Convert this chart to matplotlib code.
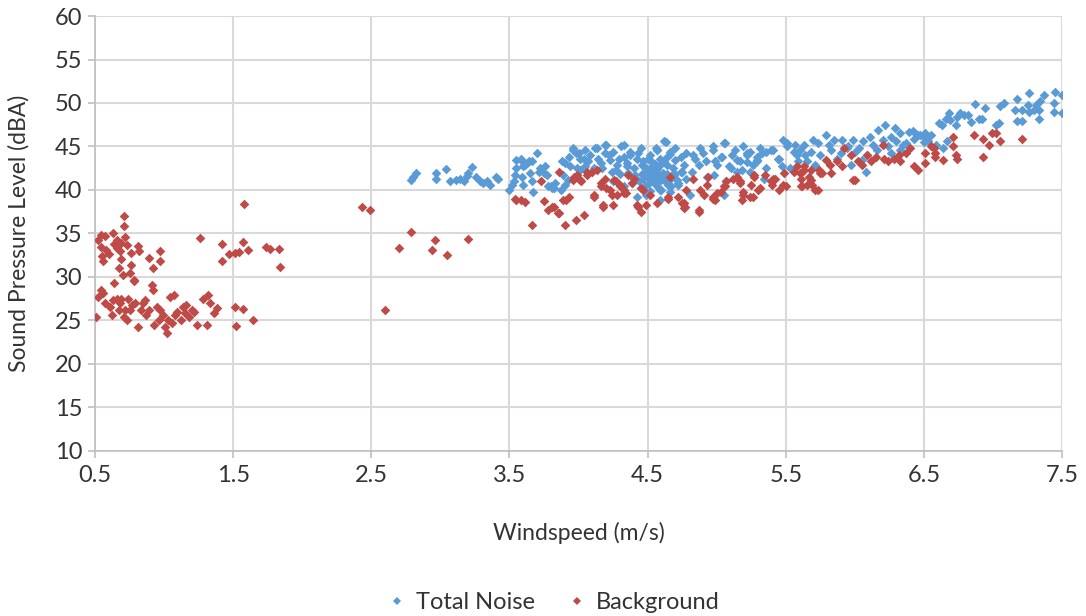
import matplotlib.pyplot as plt
from matplotlib.lines import Line2D
import numpy as np

# === PALETTE ===
BLUE = '#5B9BD5'
RED = '#BE4B48'
GRID = '#D9D9D9'
TEXT = '#333333'

plt.rcParams['font.family'] = ['Lato', 'DejaVu Sans']

# === DATA (windspeed m/s, SPL dBA) ===
TOTAL_NOISE = [
    (2.79, 41.1), (2.80, 41.5), (2.82, 41.9), (2.97, 41.9), (2.97, 41.3), (3.04, 42.4), (3.07, 41.0),
    (3.11, 41.1), (3.14, 41.3), (3.17, 41.0), (3.19, 41.6), (3.20, 41.9), (3.23, 42.6), (3.26, 41.5),
    (3.29, 41.0), (3.31, 40.8), (3.34, 41.0), (3.36, 40.6), (3.40, 41.5), (3.42, 41.3),
    (3.50, 40.0), (3.52, 40.6), (3.53, 41.0), (3.54, 41.7), (3.55, 43.4), (3.58, 43.4), (3.60, 42.7),
    (3.63, 43.1), (3.66, 43.3), (3.70, 44.2), (3.72, 42.5), (3.75, 41.9), (3.77, 41.7), (3.80, 40.4),
    (3.82, 40.2), (3.87, 40.0), (3.90, 43.1), (3.93, 43.8), (3.98, 44.2), (3.99, 42.5), (4.00, 41.3),
    (3.92, 41.1), (3.55, 42.5), (3.58, 43.6), (3.59, 41.5), (3.60, 40.6), (3.61, 42.9), (3.64, 43.3),
    (3.65, 41.9), (3.66, 41.0), (3.67, 39.8), (3.71, 42.1), (3.76, 42.7), (3.78, 40.4), (3.81, 40.2),
    (3.83, 40.8), (3.88, 43.3), (3.89, 41.7), (3.90, 40.6), (3.94, 42.7), (3.96, 44.8),
    (4.00, 44.2), (4.01, 42.3), (4.04, 43.6), (4.05, 44.6), (4.07, 43.3), (4.08, 44.0), (4.11, 42.5),
    (4.13, 44.8), (4.14, 43.6), (4.17, 42.5), (4.19, 44.2), (4.20, 45.2), (4.23, 43.4), (4.25, 44.4),
    (4.28, 42.9), (4.31, 45.0), (4.33, 43.8), (4.35, 43.1), (4.37, 44.4), (4.40, 42.5), (4.42, 43.6),
    (4.45, 44.8), (4.47, 43.3), (4.49, 42.1), (4.52, 44.0), (4.54, 42.9), (4.57, 44.6), (4.58, 41.7),
    (3.96, 44.6), (4.01, 43.6), (4.05, 42.7), (4.12, 44.8), (4.16, 43.1), (4.19, 45.2), (4.22, 44.0),
    (4.24, 42.1), (4.25, 41.0), (4.29, 43.6), (4.33, 45.2), (4.35, 42.7), (4.37, 44.0), (4.39, 40.8),
    (4.41, 41.7), (4.43, 44.2), (4.46, 42.9), (4.47, 41.3), (4.48, 40.4), (4.51, 42.3), (4.52, 43.4),
    (4.54, 41.1), (4.56, 42.1), (4.57, 44.6), (4.58, 40.2), (4.59, 42.9), (4.62, 41.5), (4.63, 45.5),
    (4.64, 43.8), (4.65, 40.6), (4.68, 42.5), (4.70, 43.4), (4.71, 41.1), (4.74, 42.1), (4.76, 42.9),
    (4.78, 44.2), (4.82, 42.1), (4.84, 43.6), (4.87, 42.9), (4.90, 44.2), (4.93, 41.5), (4.97, 45.0),
    (4.99, 43.3), (5.03, 43.8), (5.05, 45.4), (5.09, 42.7), (5.11, 44.0), (5.15, 43.4), (5.18, 42.3),
    (5.22, 44.2), (5.26, 42.9), (5.29, 43.8), (4.42, 39.2), (4.49, 39.4), (4.59, 38.8), (4.33, 40.4),
    (4.44, 41.0), (4.46, 41.8), (4.48, 42.6), (4.50, 41.5), (4.51, 40.8), (4.53, 42.0), (4.55, 41.4),
    (4.56, 40.6), (4.57, 42.4), (4.60, 41.2), (4.61, 42.0), (4.63, 40.9), (4.64, 41.8), (4.66, 41.3),
    (4.67, 40.4), (4.69, 42.0), (4.72, 40.8), (4.45, 40.2), (4.52, 39.9), (4.40, 41.4), (4.36, 42.0),
    (4.30, 41.8), (4.27, 42.3), (4.60, 40.0), (4.55, 43.0), (4.50, 43.6), (4.62, 43.2), (4.66, 44.1),
    (4.70, 44.8),
    (4.62, 45.6), (4.56, 44.8), (4.59, 43.6), (4.66, 44.4), (4.64, 42.9), (4.74, 43.8), (4.54, 42.5),
    (4.58, 41.3), (4.63, 41.0), (4.69, 41.7), (4.75, 42.1), (4.72, 40.6), (4.66, 39.8), (4.59, 40.0),
    (4.78, 41.3), (4.83, 44.0), (4.88, 44.8), (4.92, 43.3), (4.97, 44.6), (5.00, 42.9), (5.06, 45.4),
    (5.04, 43.8), (5.10, 42.5), (5.13, 44.6), (5.17, 43.3), (5.22, 44.0), (5.24, 42.1), (5.29, 43.3),
    (5.33, 44.2), (5.36, 42.5), (5.39, 44.6), (5.44, 43.6), (5.47, 42.7), (5.51, 45.4), (5.56, 44.4),
    (5.59, 43.3), (5.64, 44.0), (4.98, 41.7), (5.07, 41.0), (4.81, 39.4), (5.05, 39.4), (5.15, 42.1),
    (5.34, 41.3),
    (5.19, 45.0), (5.24, 44.4), (5.31, 44.8), (5.36, 44.4), (5.41, 44.6), (5.45, 43.6), (5.29, 43.4),
    (5.48, 45.7), (5.51, 45.0), (5.57, 45.2), (5.58, 44.0), (5.22, 43.2), (5.53, 42.5),
    (5.63, 45.2), (5.68, 44.4), (5.73, 45.4), (5.79, 46.3), (5.81, 45.2), (5.85, 45.7), (5.91, 45.7),
    (5.94, 44.8), (5.99, 45.7), (6.03, 44.8), (6.06, 45.6), (6.11, 46.1), (6.17, 46.9), (6.22, 47.5),
    (6.20, 45.7), (6.26, 46.1), (6.29, 47.1), (6.33, 46.5), (6.35, 45.2), (6.39, 46.7), (6.43, 45.9),
    (6.46, 46.3), (6.50, 46.1), (6.53, 45.6), (5.65, 43.3), (5.71, 42.9), (5.87, 43.6), (5.97, 42.9),
    (6.09, 44.0), (6.16, 44.6), (6.26, 44.2), (6.33, 44.6), (6.08, 42.1),
    (5.75, 44.0), (5.83, 44.6), (5.90, 44.2), (5.95, 45.0), (6.00, 44.4), (6.05, 43.5), (6.13, 45.2),
    (6.24, 45.0), (6.30, 45.6), (6.37, 45.4), (6.42, 46.8), (5.70, 45.8), (5.60, 44.6),
    (6.47, 46.3), (6.51, 46.5), (6.55, 46.3), (6.50, 45.5), (6.61, 47.7), (6.63, 47.5), (6.66, 48.2),
    (6.68, 48.8), (6.69, 48.0), (6.73, 47.5), (6.74, 48.4), (6.76, 48.8), (6.79, 48.6), (6.82, 48.6),
    (6.84, 47.8), (6.87, 49.9), (6.90, 48.2), (6.92, 48.2), (6.94, 49.4), (7.05, 49.6), (7.08, 50.0),
    (7.04, 47.7), (7.02, 47.5), (7.17, 50.5), (7.16, 49.2), (7.17, 47.9), (7.21, 47.9), (7.21, 49.2),
    (7.25, 49.8), (7.26, 51.1), (7.26, 49.0), (7.30, 49.2), (7.31, 49.8), (7.33, 49.2), (7.33, 48.2),
    (7.34, 50.2), (7.37, 50.9), (7.44, 50.0), (7.44, 49.0), (7.45, 51.3), (7.50, 50.9), (7.50, 48.8),
    (6.67, 45.6), (6.64, 44.8), (6.59, 45.2),
]

BACKGROUND = [
    # calm winds, upper group
    (0.71, 37.0), (0.71, 35.9), (0.54, 34.8), (0.57, 34.7), (0.63, 35.0), (0.66, 34.3), (0.69, 33.9),
    (0.73, 33.7), (0.54, 33.5), (0.58, 33.1), (0.66, 33.3), (0.68, 33.0), (0.76, 32.7), (0.81, 33.6),
    (0.82, 33.0), (0.55, 32.4), (0.56, 31.8), (0.69, 32.1), (0.76, 31.4), (0.75, 30.5), (0.67, 31.0),
    (0.89, 32.2), (0.97, 33.0), (0.97, 31.8), (0.52, 34.2), (0.60, 32.6), (0.72, 34.6), (0.64, 33.8),
    (0.78, 29.6), (0.70, 30.2), (0.92, 31.0),
    # calm winds, lower group
    (0.51, 25.4), (0.54, 28.5), (0.56, 28.1), (0.52, 27.7), (0.57, 27.0), (0.61, 26.6), (0.62, 25.6),
    (0.63, 27.4), (0.64, 29.3), (0.66, 27.5), (0.67, 26.2), (0.68, 27.0), (0.69, 27.5), (0.71, 25.4),
    (0.72, 26.2), (0.73, 25.1), (0.74, 27.5), (0.75, 26.2), (0.77, 26.8), (0.78, 29.5), (0.79, 27.0),
    (0.81, 24.3), (0.83, 26.2), (0.85, 27.0), (0.86, 27.4), (0.87, 25.6), (0.89, 26.2), (0.91, 29.1),
    (0.92, 28.5), (0.93, 24.5), (0.95, 26.6), (0.96, 25.1), (0.97, 26.2), (0.99, 25.6), (1.01, 24.3),
    (1.02, 23.5), (1.03, 25.1), (1.04, 27.7), (1.06, 24.7), (1.07, 27.9), (1.08, 25.6), (1.09, 26.0),
    (1.12, 25.1), (1.14, 26.6), (1.15, 25.8), (1.16, 26.8), (1.18, 25.4), (1.20, 26.2), (1.22, 26.0),
    (1.24, 24.5), (1.28, 27.5), (1.31, 24.5), (1.32, 27.9), (1.33, 27.0), (1.36, 25.8), (1.38, 26.4),
    # sparse middle
    (1.26, 34.5), (1.42, 33.8), (1.42, 31.8), (1.47, 32.6), (1.51, 32.7), (1.54, 32.9), (1.57, 34.0),
    (1.61, 33.1), (1.58, 38.4), (1.74, 33.5), (1.77, 33.2), (1.83, 33.2), (1.84, 31.2), (1.51, 26.5),
    (1.57, 26.3), (1.52, 24.4), (1.64, 25.0), (2.43, 38.0), (2.49, 37.7), (2.79, 35.2), (2.70, 33.3),
    (2.96, 34.2), (2.94, 33.1), (3.05, 32.5), (3.20, 34.4), (2.60, 26.2),
    # 3.5 - 4.5 m/s
    (3.55, 38.9), (3.58, 38.9), (3.61, 38.6), (3.66, 36.0), (3.75, 38.7), (3.78, 37.7), (3.82, 38.1),
    (3.86, 37.3), (3.73, 41.0), (3.86, 42.1), (3.90, 36.0), (3.98, 36.6), (3.91, 38.9), (3.93, 39.2),
    (3.97, 41.5), (3.99, 41.7), (3.54, 39.0), (3.81, 38.1), (3.85, 37.3), (3.96, 41.1), (4.04, 37.1),
    (4.02, 41.0), (4.06, 41.7), (4.10, 42.1), (4.13, 42.3), (4.11, 39.4), (4.16, 40.4), (4.18, 38.3),
    (4.19, 41.3), (4.23, 40.0), (4.25, 38.3), (4.28, 39.4), (4.27, 41.0), (4.30, 40.6), (4.33, 40.0),
    (4.34, 39.6), (4.36, 41.7), (4.40, 41.3), (4.42, 38.3), (4.45, 40.2), (4.47, 40.0), (4.49, 38.3),
    (4.52, 39.4), (3.89, 38.8), (4.01, 41.1), (4.06, 42.1), (4.11, 39.2), (4.16, 40.8), (4.18, 38.1),
    (4.20, 40.2), (4.24, 39.4), (4.26, 41.1), (4.30, 40.4), (4.33, 39.6), (4.39, 40.8), (4.43, 38.1),
    (4.45, 37.5), (4.57, 38.5),
    # 4.5 - 5.7 m/s
    (4.65, 39.0), (4.66, 41.5), (4.72, 39.2), (4.76, 38.5), (4.77, 38.1), (4.78, 40.0), (4.83, 41.3),
    (4.87, 37.7), (4.88, 40.0), (4.93, 40.6), (4.97, 39.2), (4.99, 38.8), (5.00, 39.6), (5.05, 40.4),
    (5.07, 41.0), (5.12, 41.3), (5.18, 38.8), (5.19, 39.8), (5.26, 39.2), (5.27, 41.7),
    (4.65, 39.2), (4.75, 38.5), (4.76, 37.9), (4.87, 37.5), (4.94, 41.5), (4.91, 39.4), (4.97, 39.0),
    (5.03, 39.8), (5.06, 40.4), (5.15, 41.5), (5.17, 41.0), (5.19, 39.4), (5.24, 39.2), (5.25, 40.6),
    (5.30, 40.0), (5.35, 41.7), (5.39, 41.0), (5.42, 41.3), (5.45, 40.0), (5.49, 41.9), (5.50, 40.4),
    (5.58, 42.7), (5.61, 41.9), (5.63, 42.3), (5.61, 40.4), (5.67, 41.5),
    (5.17, 40.8), (5.27, 41.5), (5.31, 40.2), (5.40, 40.6), (5.41, 41.3), (5.48, 40.6), (5.56, 42.1),
    (5.60, 41.9), (5.62, 40.4), (5.68, 41.1), (5.69, 40.6), (5.73, 40.0), (5.74, 42.3), (5.76, 41.9),
    (6.00, 41.1),
    # 5.6 - 7.3 m/s
    (5.63, 42.7), (5.68, 42.3), (5.61, 41.3), (5.65, 40.6), (5.71, 40.0), (5.75, 41.9), (5.79, 43.5),
    (5.82, 42.9), (5.83, 41.9), (5.87, 43.3), (5.91, 42.7), (5.92, 44.8), (5.97, 44.0), (5.99, 41.1),
    (6.02, 43.3), (6.05, 42.9), (6.09, 44.0), (6.12, 43.3), (6.15, 43.8), (6.20, 45.2), (6.21, 43.6),
    (6.24, 43.3), (6.28, 43.6), (6.32, 44.0), (6.33, 43.3), (6.37, 44.2), (6.40, 44.8), (6.43, 42.7),
    (6.46, 42.3), (6.51, 43.1), (6.51, 44.2), (6.55, 45.0), (6.58, 43.8),
    (6.71, 46.1), (6.86, 46.3), (6.93, 45.9), (6.97, 45.2), (6.99, 46.5), (7.02, 46.5), (7.05, 45.6),
    (6.93, 43.8), (7.21, 45.9), (6.57, 44.8), (6.58, 44.2), (6.64, 43.4), (6.71, 45.0), (6.73, 44.0),
    (6.74, 43.6),
]

X_TICKS = [0.5, 1.5, 2.5, 3.5, 4.5, 5.5, 6.5, 7.5]
Y_TICKS = list(range(10, 61, 5))

total = np.array(TOTAL_NOISE)
bg = np.array(BACKGROUND)

# === FIGURE ===
fig = plt.figure(figsize=(10.86, 6.16), dpi=100)
ax = fig.add_axes([0.0875, 0.268, 0.8905, 0.706])

ax.scatter(total[:, 0], total[:, 1], marker='D', s=24, color=BLUE, linewidths=0, zorder=3)
ax.scatter(bg[:, 0], bg[:, 1], marker='D', s=24, color=RED, linewidths=0, zorder=4)

ax.set_xlim(0.5, 7.5)
ax.set_ylim(10, 60)
ax.set_xticks(X_TICKS)
ax.set_xticklabels([f'{v:g}' for v in X_TICKS])
ax.set_yticks(Y_TICKS)

ax.grid(True, color=GRID, linewidth=1.5, zorder=0)
ax.set_axisbelow(True)
for side in ['top', 'right']:
    ax.spines[side].set_visible(False)
for side in ['left', 'bottom']:
    ax.spines[side].set_color('#BFBFBF')
    ax.spines[side].set_linewidth(1.2)

ax.tick_params(axis='both', colors='#BFBFBF', labelcolor=TEXT, labelsize=17, length=5, width=1.2)
ax.tick_params(axis='y', pad=4)
ax.tick_params(axis='x', pad=5)

ax.set_xlabel('Windspeed (m/s)', fontsize=16.5, color=TEXT, labelpad=26)
ax.set_ylabel('Sound Pressure Level (dBA)', fontsize=16.5, color=TEXT, labelpad=18)

# ── LEGEND ────────────────────────────────────────────────────────────────
handles = [
    Line2D([], [], marker='D', linestyle='none', markersize=4, color=BLUE, markeredgewidth=0),
    Line2D([], [], marker='D', linestyle='none', markersize=4, color=RED, markeredgewidth=0),
]
fig.legend(handles, ['Total Noise', 'Background'], loc='lower center',
           bbox_to_anchor=(0.51, -0.03), ncol=2, frameon=False, fontsize=17,
           handlelength=0.8, handletextpad=0.4, columnspacing=1.4, labelcolor=TEXT)

plt.savefig('out.png', dpi=100, facecolor='white')
plt.close()
